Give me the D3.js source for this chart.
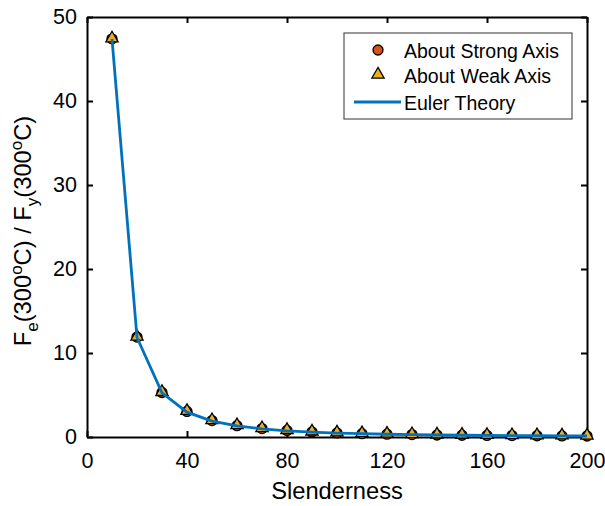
<html>
<head>
<style>
  body { margin: 0; background: #fff; }
  svg { font-family: "Liberation Sans", Arial, sans-serif; }
</style>
</head>
<body>
<svg id="chart" width="605" height="506"></svg>
<script src="https://d3js.org/d3.v7.min.js"></script>
<script>
    // slenderness values
    var slenderness = [10, 20, 30, 40, 50, 60, 70, 80, 90, 100, 110, 120, 130, 140, 150, 160, 170, 180, 190, 200];
    // ratios
    var strongAxis = [47.4, 11.9, 5.3, 3.05, 1.95, 1.35, 1.0, 0.78, 0.6, 0.49, 0.4, 0.34, 0.29, 0.24, 0.21, 0.19, 0.17, 0.15, 0.13, 0.12];
    var weakAxis   = [47.4, 11.9, 5.3, 3.05, 1.95, 1.35, 1.0, 0.78, 0.6, 0.49, 0.4, 0.34, 0.29, 0.24, 0.21, 0.19, 0.17, 0.15, 0.13, 0.12];
    var eulerTheory = [47.4, 11.85, 5.27, 2.96, 1.9, 1.32, 0.97, 0.74, 0.59, 0.47, 0.39, 0.33, 0.28, 0.24, 0.21, 0.19, 0.16, 0.15, 0.13, 0.12];
    var xTicks = [0, 40, 80, 120, 160, 200];
    var yTicks = [0, 10, 20, 30, 40, 50];
    var legendLabels = ["About Strong Axis", "About Weak Axis", "Euler Theory"];

    var margin = {top: 17, right: 18, bottom: 69, left: 87};
    var width = 605, height = 506;
    var svg = d3.select("#chart");

    var x = d3.scaleLinear().domain([0, 200]).range([margin.left, width - margin.right]);
    var y = d3.scaleLinear().domain([0, 50]).range([height - margin.bottom, margin.top]);

    var tickLen = 6;
    var axisStyle = function(g) {
        g.selectAll("path").attr("stroke", "#000").attr("stroke-width", 2);
        g.selectAll("line").attr("stroke", "#000").attr("stroke-width", 2);
        g.selectAll("text").attr("fill", "#000").style("font-size", "21.5px");
    };

    // bottom & left with labels, ticks drawn inwards
    svg.append("g")
        .attr("transform", "translate(0," + y(0) + ")")
        .call(d3.axisBottom(x).tickValues(xTicks).tickSizeInner(-tickLen).tickSizeOuter(0).tickPadding(16))
        .call(axisStyle);
    svg.append("g")
        .attr("transform", "translate(" + x(0) + ",0)")
        .call(d3.axisLeft(y).tickValues(yTicks).tickSizeInner(-tickLen).tickSizeOuter(0).tickPadding(10))
        .call(axisStyle);
    // top & right mirror (no labels)
    svg.append("g")
        .attr("transform", "translate(0," + y(50) + ")")
        .call(d3.axisTop(x).tickValues(xTicks).tickSizeInner(-tickLen).tickSizeOuter(0).tickFormat(""))
        .call(axisStyle);
    svg.append("g")
        .attr("transform", "translate(" + x(200) + ",0)")
        .call(d3.axisRight(y).tickValues(yTicks).tickSizeInner(-tickLen).tickSizeOuter(0).tickFormat(""))
        .call(axisStyle);

    // axis titles
    svg.append("text")
        .attr("x", (x(0) + x(200)) / 2)
        .attr("y", 499)
        .attr("text-anchor", "middle")
        .style("font-size", "23.7px")
        .text("Slenderness");

    var yl = svg.append("text")
        .attr("transform", "translate(31," + (y(25) + 4) + ") rotate(-90)")
        .attr("text-anchor", "middle")
        .style("font-size", "23.7px");
    yl.append("tspan").text("F");
    yl.append("tspan").attr("dy", 7).style("font-size", "17px").text("e");
    yl.append("tspan").attr("dy", -7).text("(300");
    yl.append("tspan").attr("dy", -9).style("font-size", "17px").text("o");
    yl.append("tspan").attr("dy", 9).text("C) / F");
    yl.append("tspan").attr("dy", 7).style("font-size", "17px").text("y");
    yl.append("tspan").attr("dy", -7).text("(300");
    yl.append("tspan").attr("dy", -9).style("font-size", "17px").text("o");
    yl.append("tspan").attr("dy", 9).text("C)");

    var lineColor = "#0072BD", strongColor = "#D95319", weakColor = "#EDB120";
    var tri = d3.symbol().type(d3.symbolTriangle).size(65);

    // strong axis circles
    svg.append("g").selectAll("circle")
        .data(slenderness)
        .enter().append("circle")
        .attr("cx", function(d) { return x(d); })
        .attr("cy", function(d, i) { return y(strongAxis[i]); })
        .attr("r", 5)
        .attr("fill", strongColor)
        .attr("stroke", "#000")
        .attr("stroke-width", 1.3);

    // weak axis triangles
    svg.append("g").selectAll("path")
        .data(slenderness)
        .enter().append("path")
        .attr("d", tri)
        .attr("transform", function(d, i) { return "translate(" + x(d) + "," + (y(weakAxis[i]) - 0.5) + ")"; })
        .attr("fill", weakColor)
        .attr("stroke", "#000")
        .attr("stroke-width", 1.3);

    // euler line
    var line = d3.line()
        .x(function(d) { return x(d); })
        .y(function(d, i) { return y(eulerTheory[i]); });
    svg.append("path")
        .datum(slenderness)
        .attr("d", line)
        .attr("fill", "none")
        .attr("stroke", lineColor)
        .attr("stroke-width", 2.8);

    // legend
    var lg = svg.append("g").attr("transform", "translate(344,33)");
    lg.append("rect")
        .attr("width", 228).attr("height", 86)
        .attr("fill", "#fff")
        .attr("stroke", "#333").attr("stroke-width", 1);
    var rowY = [17, 42, 69];
    lg.append("circle").attr("cx", 34).attr("cy", rowY[0]).attr("r", 5)
        .attr("fill", strongColor).attr("stroke", "#000").attr("stroke-width", 1.3);
    lg.append("path").attr("d", tri).attr("transform", "translate(34," + (rowY[1] - 0.5) + ")")
        .attr("fill", weakColor).attr("stroke", "#000").attr("stroke-width", 1.3);
    lg.append("line").attr("x1", 10).attr("x2", 57).attr("y1", rowY[2]).attr("y2", rowY[2])
        .attr("stroke", lineColor).attr("stroke-width", 2.8);
    lg.selectAll("text.lbl")
        .data(legendLabels)
        .enter().append("text")
        .attr("class", "lbl")
        .attr("x", 60)
        .attr("y", function(d, i) { return rowY[i] + 7.5; })
        .style("font-size", "19.5px")
        .text(function(d) { return d; });
</script>
</body>
</html>
